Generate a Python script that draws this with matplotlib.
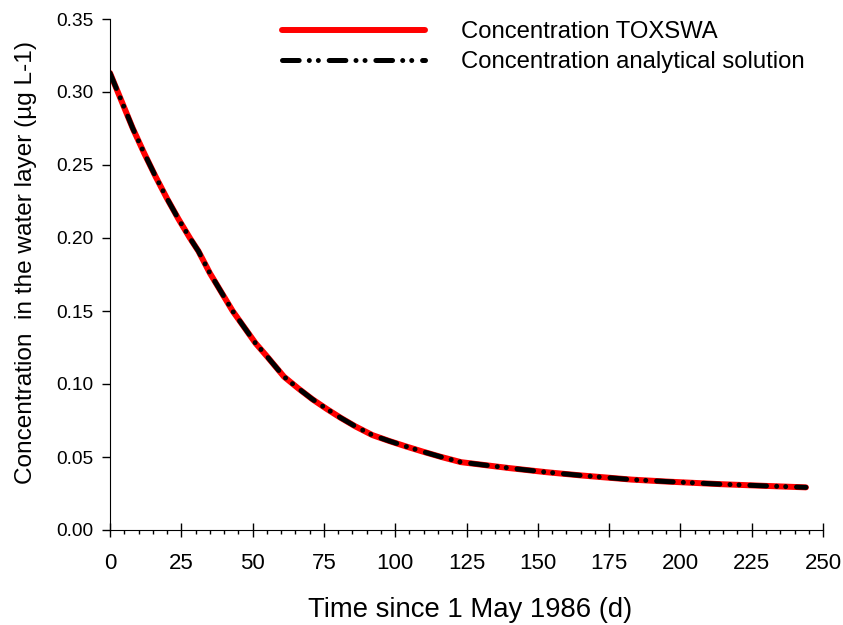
import matplotlib
matplotlib.use("Agg")
import matplotlib.pyplot as plt
from matplotlib.ticker import MultipleLocator, FormatStrFormatter

plt.rcParams["font.family"] = ["Liberation Sans", "DejaVu Sans"]
plt.rcParams["lines.scale_dashes"] = False

# days since 1 May 1986 and concentration (ug/L)
days = [0, 4, 8, 12, 16, 20, 24, 28, 31, 35, 39, 43, 47, 51, 55, 58, 61,
        66, 71, 76, 81, 86, 92, 98, 104, 110, 116, 123, 130, 140, 153, 165,
        183, 195, 214, 230, 244]
conc_toxswa = [0.313, 0.294, 0.275, 0.258, 0.242, 0.227, 0.213, 0.200, 0.191,
               0.176, 0.163, 0.150, 0.139, 0.128, 0.119, 0.112, 0.105,
               0.097, 0.0895, 0.0829, 0.0767, 0.0710, 0.065, 0.0609, 0.0571,
               0.0535, 0.0501, 0.0465, 0.0448, 0.0424, 0.0396, 0.0374,
               0.0345, 0.0332, 0.0314, 0.0302, 0.0292]
conc_analytical = [0.313, 0.294, 0.275, 0.258, 0.242, 0.227, 0.213, 0.200, 0.191,
                   0.176, 0.163, 0.150, 0.139, 0.128, 0.119, 0.112, 0.105,
                   0.097, 0.0895, 0.0829, 0.0767, 0.0710, 0.065, 0.0609, 0.0571,
                   0.0535, 0.0501, 0.0465, 0.0448, 0.0424, 0.0396, 0.0374,
                   0.0345, 0.0332, 0.0314, 0.0302, 0.0292]

fig = plt.figure(figsize=(8.43, 6.25), dpi=100)
ax = fig.add_axes([0.1305, 0.152, 0.9763 - 0.1305, 0.9696 - 0.152])

ax.plot(days, conc_toxswa, color="red", lw=4.3, solid_capstyle="round",
        label="Concentration TOXSWA")
ax.plot(days, conc_analytical, color="black", lw=3.6,
        linestyle=(0, (12, 7.3, 0.01, 6.5, 0.01, 7.8)), dash_capstyle="round",
        label="Concentration analytical solution")

ax.set_xlim(0, 250)
ax.set_ylim(0, 0.35)
ax.xaxis.set_major_locator(MultipleLocator(25))
ax.xaxis.set_minor_locator(MultipleLocator(5))
ax.yaxis.set_major_locator(MultipleLocator(0.05))
ax.yaxis.set_major_formatter(FormatStrFormatter("%.2f"))

for s in ["top", "right"]:
    ax.spines[s].set_visible(False)
ax.tick_params(axis="x", which="major", direction="inout", length=10.5, width=1,
               labelsize=16, pad=11)
ax.tick_params(axis="x", which="minor", direction="out", length=3.2, width=1)
ax.tick_params(axis="y", which="major", direction="out", length=6, width=1,
               labelsize=13.8, pad=6)

ax.set_xlabel("Time since 1 May 1986 (d)", fontsize=19.8, labelpad=17, x=0.5056)
ax.set_ylabel("Concentration  in the water layer (\u00b5g L-1)", fontsize=17.6,
              labelpad=14, y=0.524)

ax.legend(loc="upper right", bbox_to_anchor=(1.004, 1.038), frameon=False,
          fontsize=17.2, handlelength=6.0, handletextpad=1.5, labelspacing=0.33)

fig.savefig("out.png", dpi=100)
